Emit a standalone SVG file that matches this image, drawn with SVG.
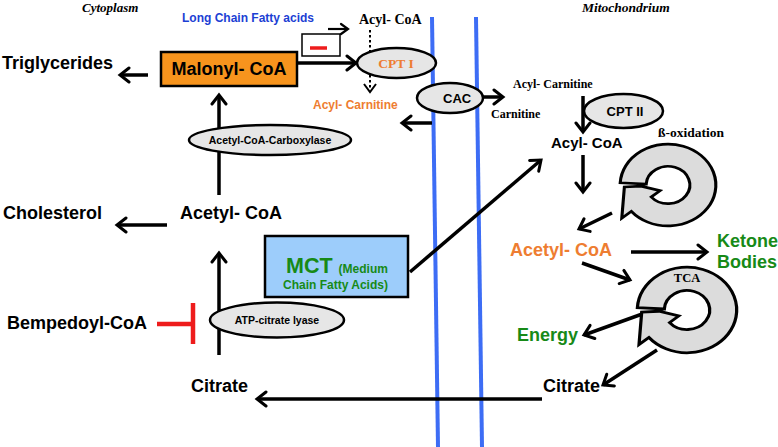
<svg xmlns="http://www.w3.org/2000/svg" width="778" height="447" viewBox="0 0 778 447">
<defs>
<marker id="ah" markerUnits="userSpaceOnUse" markerWidth="18" markerHeight="18" refX="13" refY="9" orient="auto">
<path d="M4,2 L13,9 L4,16" fill="none" stroke="#000" stroke-width="3" stroke-linecap="round" stroke-linejoin="miter"/>
</marker>
<marker id="ahs" markerUnits="userSpaceOnUse" markerWidth="14" markerHeight="14" refX="11" refY="7" orient="auto">
<path d="M4,2 L11,7 L4,12" fill="none" stroke="#000" stroke-width="2.2" stroke-linecap="round"/>
</marker>
<path id="ring" d="M-45.94,-2.41 A46,46 0 1 1 -35.24,29.57 L-44.43,37.28 L-41.94,2.20 L-25.96,1.36 L-7.66,6.43 L-16.09,13.50 A21,21 0 1 0 -20.97,-1.10 Z"/>
</defs>
<style>
.s{font-family:"Liberation Sans",Arial,sans-serif;font-weight:bold}
.r{font-family:"Liberation Serif","Times New Roman",serif;font-weight:bold}
.it{font-style:italic}
.k{fill:#000}
.o{fill:#ee7d31}
.g{fill:#178a17}
.b{fill:#1c3fd4}
.ln{stroke:#000;stroke-width:3.5;fill:none}
.ar{stroke:#000;stroke-width:3.5;fill:none;marker-end:url(#ah)}
.ars{stroke:#000;stroke-width:2.2;fill:none;marker-end:url(#ahs)}
.el{fill:#e6e6e6;stroke:#000;stroke-width:2.5}
.mem{stroke:#3d6df5;stroke-width:4}
.rg{fill:#dcdcdc;stroke:#000;stroke-width:3;vector-effect:non-scaling-stroke}
</style>
<rect width="778" height="447" fill="#fff"/>

<g id="membranes">
<line class="mem" x1="432" y1="17" x2="438" y2="447"/>
<line class="mem" x1="476" y1="17" x2="482" y2="447"/>
</g>

<g id="labels">
<text class="r it k" x="82" y="12" font-size="13">Cytoplasm</text>
<text class="r it k" x="582" y="12" font-size="13.5">Mitochondrium</text>
</g>

<g id="connectors">
<line class="ar" x1="148" y1="75" x2="120" y2="75"/>
<line class="ar" x1="297" y1="63" x2="356" y2="63"/>
<line class="ars" x1="328" y1="29" x2="348" y2="29"/>
<line x1="370" y1="30" x2="370" y2="90" stroke="#000" stroke-width="2" stroke-dasharray="2.5,2.5"/>
<path d="M364,84 L370,92 L376,84" fill="none" stroke="#000" stroke-width="2"/>
<line class="ar" x1="219" y1="195" x2="219" y2="95"/>
<line class="ar" x1="167" y1="225" x2="117" y2="225"/>
<line class="ar" x1="219" y1="355" x2="219" y2="253"/>
<line class="ar" x1="542" y1="399" x2="257" y2="399"/>
<line class="ar" x1="432" y1="123" x2="402" y2="123"/>
<line class="ar" x1="474" y1="97" x2="503" y2="97"/>
<line class="ar" x1="583" y1="96" x2="583" y2="132"/>
<line class="ar" x1="583" y1="155" x2="583" y2="192"/>
<line class="ar" x1="612" y1="213" x2="579" y2="229"/>
<line class="ar" x1="631" y1="252" x2="707" y2="252"/>
<line class="ar" x1="582" y1="263" x2="630" y2="280"/>
<line class="ar" x1="645" y1="313" x2="584" y2="335"/>
<line class="ar" x1="657" y1="350" x2="603" y2="385"/>
<line class="ar" x1="410" y1="272" x2="541" y2="160" stroke-width="4"/>
<line x1="157" y1="324" x2="193" y2="324" stroke="#ee1c1c" stroke-width="4.5"/>
<line x1="193" y1="303" x2="193" y2="344" stroke="#ee1c1c" stroke-width="4.5"/>
</g>

<g id="triglycerides"><text class="s k" x="2" y="69" font-size="18">Triglycerides</text></g>
<g id="malonyl">
<rect x="161" y="52" width="136" height="34" fill="#f7941d" stroke="#000" stroke-width="2.5"/>
<text class="s k" x="229" y="75" font-size="18" text-anchor="middle">Malonyl- CoA</text>
</g>
<g id="lcfa"><text class="s b" x="182" y="22" font-size="12">Long Chain Fatty acids</text></g>
<g id="inhibit-box">
<rect x="302" y="34" width="38" height="22" fill="#fff" stroke="#000" stroke-width="1.5"/>
<line x1="310" y1="48" x2="327" y2="48" stroke="#ee1c1c" stroke-width="3.5"/>
</g>
<g id="acylcoa-top"><text class="r k" x="359" y="24" font-size="14">Acyl- CoA</text></g>
<g id="cpt1">
<ellipse class="el" cx="396.5" cy="63" rx="39.5" ry="15"/>
<text class="r o" x="396" y="68" font-size="13.5" text-anchor="middle">CPT I</text>
</g>
<g id="acylcarnitine-cyto"><text class="s o" x="313" y="109" font-size="12">Acyl- Carnitine</text></g>
<g id="cac">
<ellipse class="el" cx="450" cy="98" rx="33" ry="15"/>
<text class="s k" x="443" y="103" font-size="13">CAC</text>
</g>
<g id="acylcarnitine-mito"><text class="r k" x="513" y="88" font-size="12">Acyl- Carnitine</text></g>
<g id="carnitine"><text class="r k" x="491" y="118" font-size="12">Carnitine</text></g>
<g id="cpt2">
<ellipse class="el" cx="623.5" cy="111" rx="39.5" ry="17"/>
<text class="s k" x="625" y="116" font-size="13" text-anchor="middle">CPT II</text>
</g>
<g id="acylcoa-mito"><text class="s k" x="551" y="148" font-size="15">Acyl- CoA</text></g>
<g id="beta-ox">
<text class="r k" x="658" y="137" font-size="13.5">ß-oxidation</text>
<use href="#ring" class="rg" transform="translate(668,185) scale(1.04,0.89)"/>
</g>
<g id="acc">
<ellipse class="el" cx="270" cy="140" rx="81" ry="15"/>
<text class="s k" x="270" y="143.5" font-size="10.5" text-anchor="middle">Acetyl-CoA-Carboxylase</text>
</g>
<g id="cholesterol"><text class="s k" x="3" y="219" font-size="18">Cholesterol</text></g>
<g id="acetylcoa-cyto"><text class="s k" x="180" y="219" font-size="18">Acetyl- CoA</text></g>
<g id="mct">
<rect x="265" y="236" width="143" height="61" fill="#9dcdfb" stroke="#000" stroke-width="2.5"/>
<text class="s g" x="286" y="273" font-size="21.5">MCT <tspan font-size="12">(Medium</tspan></text>
<text class="s g" x="283" y="289" font-size="12">Chain Fatty Acids)</text>
</g>
<g id="bempedoyl"><text class="s k" x="7" y="329" font-size="18">Bempedoyl-CoA</text></g>
<g id="acl">
<ellipse class="el" cx="277" cy="320" rx="67" ry="17.5"/>
<text class="s k" x="277" y="323.5" font-size="10.5" text-anchor="middle">ATP-citrate lyase</text>
</g>
<g id="citrate-cyto"><text class="s k" x="191" y="392" font-size="18">Citrate</text></g>
<g id="acetylcoa-mito"><text class="s o" x="510" y="256" font-size="18">Acetyl- CoA</text></g>
<g id="ketone"><text class="s g" x="717" y="247" font-size="18">Ketone</text><text class="s g" x="717" y="268" font-size="18">Bodies</text></g>
<g id="tca">
<use href="#ring" class="rg" transform="translate(687,310) scale(1.08,0.93)"/>
<text class="r k" x="687" y="282" font-size="12.5" text-anchor="middle">TCA</text>
</g>
<g id="energy"><text class="s g" x="517" y="341" font-size="18">Energy</text></g>
<g id="citrate-mito"><text class="s k" x="543" y="392" font-size="18">Citrate</text></g>
</svg>
